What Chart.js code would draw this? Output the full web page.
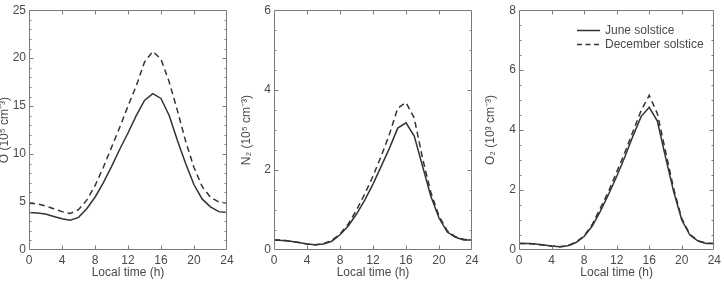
<!DOCTYPE html>
<html>
<head>
<meta charset="utf-8">
<script src="https://cdn.jsdelivr.net/npm/chart.js@4"></script>
<style>
  html, body { margin: 0; padding: 0; background: #fff; }
  .wrap { position: absolute; top: 0; height: 281px; }
</style>
</head>
<body>
<div class="wrap" style="left:0;width:241px"><canvas id="c1"></canvas></div>
<div class="wrap" style="left:241px;width:241px"><canvas id="c2"></canvas></div>
<div class="wrap" style="left:482px;width:242px"><canvas id="c3"></canvas></div>
<script>
// ---- data ----
const hours = [0,1,2,3,4,5,6,7,8,9,10,11,12,13,14,15,16,17,18,19,20,21,22,23,24];
const xTicks = [0,4,8,12,16,20,24];
const seriesNames = ['June solstice', 'December solstice'];

const oJune = [3.9,3.85,3.75,3.5,3.25,3.1,3.4,4.3,5.5,7.0,8.7,10.5,12.2,14.0,15.6,16.3,15.8,14.0,11.4,9.0,6.8,5.3,4.5,4.0,3.9];
const oDec  = [4.9,4.8,4.6,4.3,4.0,3.8,4.2,5.2,6.7,8.6,10.7,12.8,15.0,17.1,19.6,20.7,19.9,17.5,14.5,11.3,8.6,6.6,5.5,5.0,4.9];

const n2June = [0.25,0.24,0.22,0.19,0.15,0.13,0.15,0.22,0.38,0.6,0.9,1.25,1.65,2.1,2.55,3.05,3.18,2.85,2.1,1.35,0.8,0.45,0.32,0.25,0.25];
const n2Dec  = [0.25,0.25,0.22,0.19,0.15,0.13,0.16,0.24,0.4,0.65,1.0,1.4,1.85,2.35,2.9,3.55,3.69,3.3,2.3,1.45,0.85,0.48,0.33,0.27,0.25];

const o2June = [0.22,0.22,0.2,0.17,0.13,0.11,0.14,0.25,0.45,0.8,1.3,1.85,2.45,3.1,3.8,4.45,4.76,4.3,3.1,1.95,1.0,0.5,0.3,0.22,0.22];
const o2Dec  = [0.22,0.22,0.2,0.17,0.13,0.11,0.14,0.26,0.47,0.85,1.4,1.95,2.6,3.25,3.95,4.65,5.16,4.55,3.3,2.05,1.05,0.52,0.3,0.23,0.22];

const yTitles = ['O (10\u2075 cm\u207B\u00B3)', 'N\u2082 (10\u2075 cm\u207B\u00B3)', 'O\u2082 (10\u00B3 cm\u207B\u00B3)'];
const xTitle = 'Local time (h)';

// ---- style ----
const FONT = "'Liberation Sans', Arial, Helvetica, sans-serif";
const TEXT = '#4a4a4a';
const FRAME = '#7a7a7a';
const LINE = '#333333';

function framePlugin(majorStep, minorStep) {
  return {
    id: 'frameTicks',
    afterDatasetsDraw(chart) {
      const {ctx, chartArea: a, scales: {x, y}} = chart;
      const L = Math.round(a.left) + 0.5, R = Math.round(a.right) - 0.5;
      const T = Math.round(a.top) + 0.5, B = Math.round(a.bottom) - 0.5;
      ctx.save();
      ctx.strokeStyle = FRAME;
      ctx.lineWidth = 1;
      ctx.setLineDash([]);
      ctx.beginPath();
      ctx.rect(L, T, R - L, B - T);
      // x ticks (top & bottom, inward)
      xTicks.forEach(h => {
        if (h === x.min || h === x.max) return;
        const px = Math.round(x.getPixelForValue(h)) + 0.5;
        ctx.moveTo(px, B); ctx.lineTo(px, B - 4);
        ctx.moveTo(px, T); ctx.lineTo(px, T + 4);
      });
      // y ticks (left & right, inward)
      const n = Math.round((y.max - y.min) / minorStep);
      for (let i = 1; i < n; i++) {
        const v = y.min + i * minorStep;
        const isMajor = Math.abs(v / majorStep - Math.round(v / majorStep)) < 1e-6;
        const len = isMajor ? 4 : 2;
        const py = Math.round(y.getPixelForValue(v)) + 0.5;
        ctx.moveTo(L, py); ctx.lineTo(L + len, py);
        ctx.moveTo(R, py); ctx.lineTo(R - len, py);
      }
      ctx.stroke();
      ctx.restore();
    }
  };
}

const legendPlugin = {
  id: 'insideLegend',
  afterDraw(chart) {
    const {ctx, chartArea: a} = chart;
    const x0 = a.left + 58, x1 = x0 + 23, tx = x0 + 28;
    const rows = [{y: 30, dash: []}, {y: 44, dash: [5, 3.5]}];
    ctx.save();
    rows.forEach((r, i) => {
      ctx.strokeStyle = LINE;
      ctx.lineWidth = 1.5;
      ctx.setLineDash(r.dash);
      ctx.beginPath();
      ctx.moveTo(x0, r.y + 0.5); ctx.lineTo(x1, r.y + 0.5);
      ctx.stroke();
      ctx.setLineDash([]);
      ctx.fillStyle = TEXT;
      ctx.font = '12px ' + FONT;
      ctx.textBaseline = 'middle';
      ctx.textAlign = 'left';
      ctx.fillText(seriesNames[i], tx, r.y + 1);
    });
    ctx.restore();
  }
};

function makeChart(id, june, dec, yMax, majorStep, minorStep, yAxisWidth, padRight, yTitle, titlePad, withLegend) {
  const plugins = [framePlugin(majorStep, minorStep)];
  if (withLegend) plugins.push(legendPlugin);
  return new Chart(document.getElementById(id), {
    type: 'line',
    data: {
      labels: hours,
      datasets: [
        { label: seriesNames[0], data: hours.map((h, i) => ({x: h, y: june[i]})),
          borderColor: LINE, borderWidth: 1.5, pointRadius: 0, tension: 0, fill: false },
        { label: seriesNames[1], data: hours.map((h, i) => ({x: h, y: dec[i]})),
          borderColor: LINE, borderWidth: 1.5, borderDash: [6, 4], pointRadius: 0, tension: 0, fill: false }
      ]
    },
    options: {
      responsive: true,
      maintainAspectRatio: false,
      animation: false,
      events: [],
      layout: { padding: { left: 0, right: padRight, top: 6, bottom: 0 } },
      plugins: { legend: { display: false }, tooltip: { enabled: false } },
      scales: {
        x: {
          type: 'linear', min: 0, max: 24,
          afterBuildTicks(s) { s.ticks = xTicks.map(v => ({value: v})); },
          afterFit(s) { s.height = 31; },
          grid: { display: false, drawTicks: false },
          border: { display: false },
          ticks: { color: TEXT, font: { family: FONT, size: 12 }, padding: 3, maxRotation: 0, autoSkip: false },
          title: { display: true, text: xTitle, color: TEXT, font: { family: FONT, size: 12 }, padding: { top: 0, bottom: 1 } }
        },
        y: {
          type: 'linear', min: 0, max: yMax,
          ticks: { stepSize: majorStep, color: TEXT, font: { family: FONT, size: 12 }, padding: 3 },
          afterFit(s) { s.width = yAxisWidth; },
          grid: { display: false, drawTicks: false },
          border: { display: false },
          title: { display: true, text: yTitle, color: TEXT, font: { family: FONT, size: 12 }, padding: { top: titlePad, bottom: 0 } }
        }
      }
    },
    plugins
  });
}

makeChart('c1', oJune, oDec, 25, 5, 1, 29, 14, yTitles[0], -2.2, false);
makeChart('c2', n2June, n2Dec, 6, 2, 0.5, 33, 10, yTitles[1], -1.5, false);
makeChart('c3', o2June, o2Dec, 8, 2, 0.5, 37, 7, yTitles[2], 1.8, true);
</script>
</body>
</html>
